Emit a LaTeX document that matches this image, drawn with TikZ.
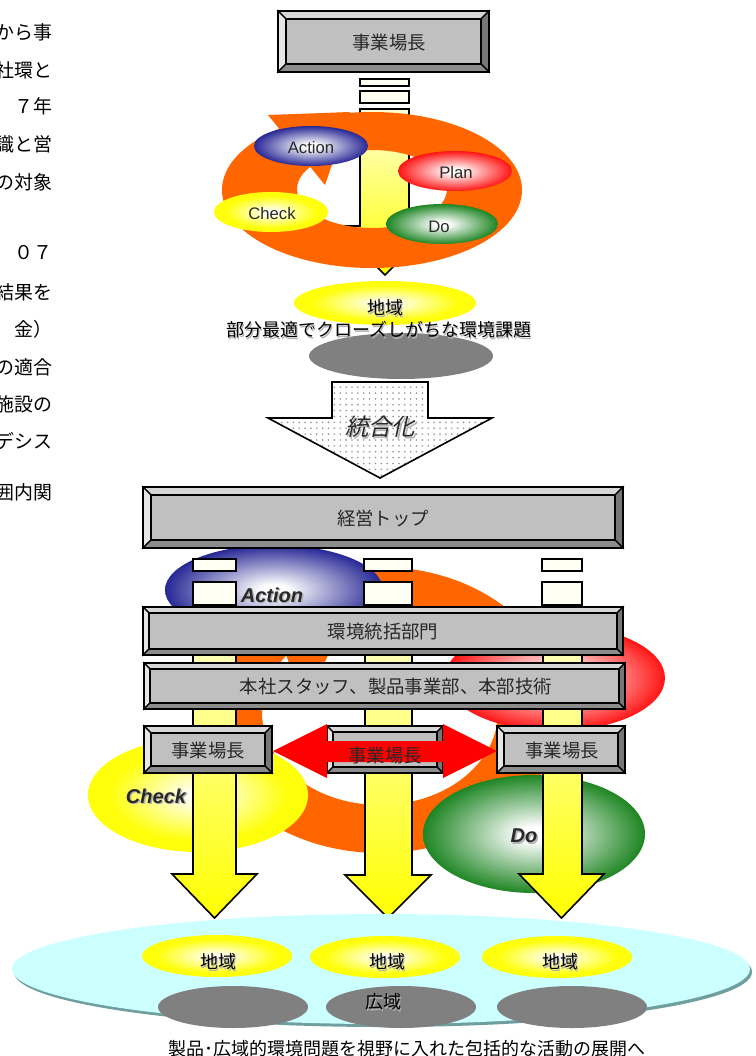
\documentclass[tikz,border=0pt]{standalone}
\usepackage{fontspec}
\setmainfont{Liberation Sans}
\newfontfamily\jp{Noto Sans CJK JP}
\newfontfamily\jpit[FakeSlant=0.22]{Noto Sans CJK JP}
\usetikzlibrary{patterns.meta}
\definecolor{orng}{RGB}{255,102,0}
\definecolor{cyanfill}{RGB}{204,255,255}
\definecolor{cyanshadow}{RGB}{110,158,158}
\definecolor{bface}{RGB}{192,192,192}
\definecolor{btop}{RGB}{214,214,214}
\definecolor{bleft}{RGB}{230,230,230}
\definecolor{bright}{RGB}{118,118,118}
\definecolor{bbot}{RGB}{140,140,140}
\definecolor{ellgray}{RGB}{128,128,128}
\definecolor{rectfill}{RGB}{255,255,244}
\definecolor{paleyel}{RGB}{255,255,214}
\definecolor{txt}{RGB}{40,40,40}
\pgfdeclareradialshading{sblue}{\pgfpoint{0bp}{0bp}}{rgb(0bp)=(1,1,1);rgb(3bp)=(1,1,1);rgb(27bp)=(0.08,0.08,0.55);rgb(50bp)=(0.08,0.08,0.55)}
\pgfdeclareradialshading{sred}{\pgfpoint{0bp}{0bp}}{rgb(0bp)=(1,1,1);rgb(3bp)=(1,1,1);rgb(27bp)=(1,0,0);rgb(50bp)=(1,0,0)}
\pgfdeclareradialshading{sgreen}{\pgfpoint{0bp}{0bp}}{rgb(0bp)=(1,1,1);rgb(3bp)=(1,1,1);rgb(27bp)=(0.04,0.48,0.06);rgb(50bp)=(0.04,0.48,0.06)}
\pgfdeclareradialshading{syellow}{\pgfpoint{0bp}{0bp}}{rgb(0bp)=(1,1,1);rgb(4bp)=(1,1,0.88);rgb(20bp)=(1,1,0.05);rgb(50bp)=(1,1,0)}
\newcommand\bevelbox[8]{%
  \pgfmathsetmacro\bxl{#2+#6}\pgfmathsetmacro\bxr{#4-#6}%
  \pgfmathsetmacro\bxt{#3+#6}\pgfmathsetmacro\bxb{#5-#6}%
  \fill[bface] (\bxl,\bxt) rectangle (\bxr,\bxb);
  \filldraw[fill=btop,bevline] (#2,#3) -- (#4,#3) -- (\bxr,\bxt) -- (\bxl,\bxt) -- cycle;
  \filldraw[fill=bleft,bevline] (#2,#3) -- (\bxl,\bxt) -- (\bxl,\bxb) -- (#2,#5) -- cycle;
  \filldraw[fill=bright,bevline] (#4,#3) -- (#4,#5) -- (\bxr,\bxb) -- (\bxr,\bxt) -- cycle;
  \filldraw[fill=bbot,bevline] (#2,#5) -- (#4,#5) -- (\bxr,\bxb) -- (\bxl,\bxb) -- cycle;
  \draw[bevline] (\bxl,\bxt) rectangle (\bxr,\bxb);
  \draw[bevouter] (#2,#3) rectangle (#4,#5);
  \node[bartext] (#1) at (#8,{(#3+#5)/2+1}) {#7};
}
\newcommand\shnode[4]{%
  \node[#2,text=black!30] (#1s) at ([shift={(1.4,1.4)}]#3) {#4};
  \node[#2] (#1) at (#3) {#4};
}
\begin{document}
\begin{tikzpicture}[x=0.75pt,y=-0.75pt,
  bevline/.style={draw=black,line width=0.9pt},
  bevouter/.style={draw=black,line width=1.3pt},
  bartext/.style={font=\jp\fontsize{13.8}{16}\selectfont,text=txt,inner sep=0pt},
  lefttext/.style={font=\jp\fontsize{14.2}{16}\selectfont,text=black,anchor=east,inner sep=0pt},
  pdcas/.style={font=\fontsize{12.5}{14}\selectfont,text=txt,inner sep=0pt},
  pdcab/.style={font=\fontsize{15}{17}\selectfont\bfseries\itshape,text=txt,inner sep=0pt},
  jptext/.style={font=\jp\fontsize{13.5}{16}\selectfont,text=black,inner sep=0pt},
  smallrect/.style={fill=rectfill,draw=black,line width=1.1pt},
  colarrow/.style={top color=paleyel,bottom color=yellow,draw=black,line width=1.2pt},
]
\fill[white] (0,0) rectangle (756,1056);
\useasboundingbox (0,0) rectangle (756,1056);

% ---------- left cut-off text column ----------
\node[lefttext] (l1) at (53,32) {から事};
\node[lefttext] (l2) at (53,70) {社環と};
\node[lefttext] (l3) at (53,106) {７年};
\node[lefttext] (l4) at (53,144) {識と営};
\node[lefttext] (l5) at (53,182) {の対象};
\node[lefttext] (l6) at (53,253) {０７};
\node[lefttext] (l7) at (53,292) {結果を};
\node[lefttext] (l8) at (53,329) {金）};
\node[lefttext] (l9) at (53,367) {の適合};
\node[lefttext] (l10) at (53,404) {施設の};
\node[lefttext] (l11) at (53,441) {デシス};
\node[lefttext] (l12) at (53,492) {囲内関};

% ---------- top section ----------
\draw[colarrow] (360,109) -- (409,109) -- (409,226) -- (434,226) -- (385,275) -- (336,226) -- (360,226) -- cycle;
\draw[smallrect] (360,79) rectangle (409,86);
\draw[smallrect] (360,91) rectangle (409,103);
\fill[orng,even odd rule] (372,190) ellipse [x radius=150, y radius=78] (372,189) ellipse [x radius=75, y radius=39];
\fill[orng] (268,115) -- (325,185) -- (350,112) -- cycle;

\shade[shading=sblue] (311,146) ellipse [x radius=57, y radius=20];
\node[pdcas] (act1) at (311,148) {Action};
\shade[shading=sred] (455,171) ellipse [x radius=57, y radius=20];
\node[pdcas] (plan1) at (456,173) {Plan};
\shade[shading=syellow] (271,212) ellipse [x radius=57, y radius=20];
\node[pdcas] (chk1) at (272,214) {Check};
\shade[shading=sgreen] (442,224) ellipse [x radius=56, y radius=20];
\node[pdcas] (do1) at (439,227) {Do};

\bevelbox{topbox}{278}{11}{489}{72}{8}{事業場長}{389}

\shade[shading=syellow] (385,303) ellipse [x radius=91, y radius=22];
\fill[ellgray] (401,356) ellipse [x radius=92, y radius=23];
\shnode{region1}{jptext}{385,308}{地域}
\shnode{issue}{jptext}{379,330}{部分最適でクローズしがちな環境課題}

\draw[line width=1.2pt,pattern={Dots[distance=4.4pt,radius=0.7pt]},pattern color=black!40]
  (332,382) -- (428,382) -- (428,418) -- (492,418) -- (380,478) -- (268,418) -- (332,418) -- cycle;
\shnode{integ}{font=\jpit\fontsize{17.5}{20}\selectfont,text=txt,inner sep=0pt}{380,427}{統合化}

% ---------- bottom section ----------
\fill[orng,even odd rule] (380,710) ellipse [x radius=180, y radius=143] (380,712) ellipse [x radius=118, y radius=93];
\fill[orng] (255,573) -- (305,705) -- (365,575) -- cycle;

\shade[shading=sblue] (274,590) ellipse [x radius=109, y radius=45];
\shnode{act2}{pdcab}{272,595}{Action}
\shade[shading=sred] (555,678) ellipse [x radius=110, y radius=53];
\node[pdcab] (plan2) at (527,671) {Plan};
\shade[shading=syellow] (198,795) ellipse [x radius=110, y radius=57];
\shnode{chk2}{pdcab}{156,796}{Check}
\shade[shading=sgreen] (534,834) ellipse [x radius=111, y radius=59];
\shnode{do2}{pdcab}{524,836}{Do}

% columns
\draw[smallrect] (193,559) rectangle (236,571);
\draw[smallrect] (193,582) rectangle (236,605);
\draw[smallrect] (364,559) rectangle (412,571);
\draw[smallrect] (364,582) rectangle (412,605);
\draw[smallrect] (542,559) rectangle (582,571);
\draw[smallrect] (542,582) rectangle (582,605);
\draw[colarrow] (193,607) -- (236,607) -- (236,874) -- (257,874) -- (214.5,918) -- (172,874) -- (193,874) -- cycle;
\draw[colarrow] (365,607) -- (412,607) -- (412,875) -- (431,875) -- (388,918) -- (345,875) -- (365,875) -- cycle;
\draw[colarrow] (543,607) -- (582,607) -- (582,874) -- (604,874) -- (561.5,918) -- (519,874) -- (543,874) -- cycle;

% bars
\bevelbox{topmgmt}{143}{487}{623}{548}{8}{経営トップ}{383}
\bevelbox{envdept}{143}{607}{623}{655}{6}{環境統括部門}{383}
\bevelbox{staff}{144}{663}{625}{709}{6}{本社スタッフ、製品事業部、本部技術}{396}
\bevelbox{siteL}{144}{726}{272}{773}{7}{事業場長}{208}
\bevelbox{siteM}{327}{726}{443}{773}{6}{}{385}
\bevelbox{siteR}{497}{726}{625}{773}{7}{事業場長}{562}

% red double arrow
\fill[red] (273,751) -- (327,724) -- (327,741) -- (443,741) -- (443,724) -- (497,751) -- (443,778) -- (443,762) -- (327,762) -- (327,778) -- cycle;
\node[bartext] (siteMtext) at (385,756) {事業場長};

% wide area ellipse
\fill[cyanshadow] (383,972) ellipse [x radius=369, y radius=55];
\fill[cyanfill] (381,969) ellipse [x radius=369, y radius=55];
\shade[shading=syellow] (217,956) ellipse [x radius=75, y radius=21];
\shade[shading=syellow] (385,957) ellipse [x radius=75, y radius=21];
\shade[shading=syellow] (557,957) ellipse [x radius=75, y radius=21];
\fill[ellgray] (233,1007) ellipse [x radius=75, y radius=21];
\fill[ellgray] (401,1007) ellipse [x radius=75, y radius=21];
\fill[ellgray] (572,1007) ellipse [x radius=75, y radius=21];
\shnode{regL}{jptext}{218,962}{地域}
\shnode{regM}{jptext}{387,962}{地域}
\shnode{regR}{jptext}{560,962}{地域}
\shnode{wide}{jptext}{383,1002}{広域}

\node[jptext] (caption) at (407,1049) {製品･広域的環境問題を視野に入れた包括的な活動の展開へ};
\end{tikzpicture}
\end{document}
